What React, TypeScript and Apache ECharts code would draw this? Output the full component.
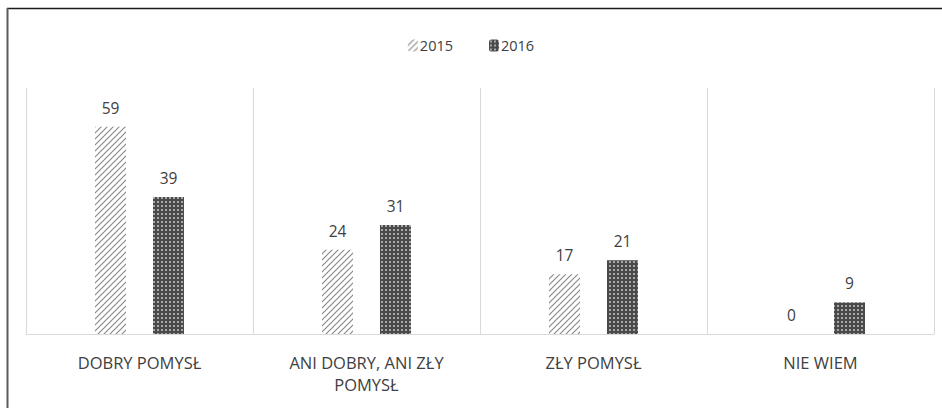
import React, { useEffect, useRef } from "react";
import * as echarts from "echarts";

const categories = ["DOBRY POMYSŁ", "ANI DOBRY, ANI ZŁY POMYSŁ", "ZŁY POMYSŁ", "NIE WIEM"];
const seriesNames = ["2015", "2016"];
const values2015 = [59, 24, 17, 0];
const values2016 = [39, 31, 21, 9];

function hatchPattern(): HTMLCanvasElement {
  const c = document.createElement("canvas");
  c.width = 6;
  c.height = 6;
  const ctx = c.getContext("2d")!;
  ctx.fillStyle = "#ffffff";
  ctx.fillRect(0, 0, 6, 6);
  ctx.strokeStyle = "#8a8a8a";
  ctx.lineWidth = 1.2;
  ctx.beginPath();
  ctx.moveTo(-1, 7);
  ctx.lineTo(7, -1);
  ctx.moveTo(-1, 1);
  ctx.lineTo(1, -1);
  ctx.moveTo(5, 7);
  ctx.lineTo(7, 5);
  ctx.stroke();
  return c;
}

function dotPattern(): HTMLCanvasElement {
  const c = document.createElement("canvas");
  c.width = 4;
  c.height = 4;
  const ctx = c.getContext("2d")!;
  ctx.fillStyle = "#4a4a4a";
  ctx.fillRect(0, 0, 4, 4);
  ctx.fillStyle = "#a8a8a8";
  ctx.fillRect(1, 1, 2, 2);
  return c;
}

export default function App() {
  const ref = useRef<HTMLDivElement>(null);
  useEffect(() => {
    document.body.style.margin = "0";
    const chart = echarts.init(ref.current!, null, { renderer: "svg" });
    const font = "'Open Sans', 'Noto Sans', sans-serif";
    const labelStyle = {
      show: true,
      position: "top" as const,
      distance: 11,
      fontSize: 15.5,
      color: "#404040",
      fontFamily: font,
    };
    chart.setOption({
      animation: false,
      backgroundColor: "#ffffff",
      textStyle: { fontFamily: font },
      legend: {
        top: 33,
        left: "center",
        itemWidth: 10,
        itemHeight: 12,
        itemGap: 36,
        textStyle: { fontSize: 14.5, color: "#404040", fontFamily: font, padding: [0, 0, 0, -3] },
        data: seriesNames,
      },
      grid: { left: 26, right: 8, top: 88, bottom: 74 },
      xAxis: {
        type: "category",
        data: categories,
        axisLine: { lineStyle: { color: "#d9d9d9", width: 1 } },
        axisTick: { show: false },
        splitLine: { show: true, lineStyle: { color: "#d9d9d9", width: 1 } },
        axisLabel: {
          color: "#404040",
          fontSize: 16.5,
          fontFamily: font,
          margin: 17,
          lineHeight: 22,
          interval: 0,
          formatter: (v: string) => (v.length > 20 ? v.replace(/ (\S+)$/, "\n$1") : v),
        },
      },
      yAxis: {
        type: "value",
        min: 0,
        max: 70,
        show: false,
        splitLine: { show: false },
      },
      series: [
        {
          name: seriesNames[0],
          type: "bar",
          data: values2015,
          barWidth: 31,
          barGap: "87%",
          itemStyle: { color: { image: hatchPattern(), repeat: "repeat" } },
          label: labelStyle,
        },
        {
          name: seriesNames[1],
          type: "bar",
          data: values2016,
          barWidth: 31,
          barGap: "87%",
          itemStyle: { color: { image: dotPattern(), repeat: "repeat" } },
          label: labelStyle,
        },
      ],
      graphic: [
        {
          type: "line",
          shape: { x1: 7, y1: 8.5, x2: 942, y2: 8.5 },
          style: { stroke: "#1a1a1a", lineWidth: 1.5 },
        },
        {
          type: "line",
          shape: { x1: 7.5, y1: 8, x2: 7.5, y2: 408 },
          style: { stroke: "#5a5a5a", lineWidth: 2 },
        },
      ],
    });
    return () => chart.dispose();
  }, []);
  return <div ref={ref} style={{ width: 942, height: 408 }} />;
}
